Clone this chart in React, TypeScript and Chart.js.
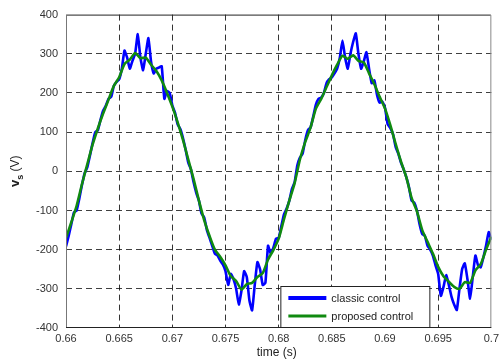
import React, { useEffect, useRef } from "react";
import { Chart, registerables } from "chart.js";

Chart.register(...registerables);

// ---- data ----
const T_START = 0.66;
const CLASSIC_STEP = 0.00025; // sampling grid of the classic-control trace
const PROPOSED_STEP = 0.0005; // sampling grid of the proposed-control trace

const xTicks = [0.66, 0.665, 0.67, 0.675, 0.68, 0.685, 0.69, 0.695, 0.7];
const yTicks = [-400, -300, -200, -100, 0, 100, 200, 300, 400];
const seriesNames = ["classic control", "proposed control"];

const classicControl = [
  -192, -165, -135, -105, -100, -70, -35, -5, 10, 40,
  72, 100, 105, 132, 155, 168, 185, 190, 218, 228,
  235, 262, 308, 290, 262, 282, 300, 350, 290, 258,
  300, 340, 280, 250, 262, 265, 268, 185, 205, 200,
  168, 150, 120, 108, 85, 55, 22, 5, -28, -55,
  -75, -108, -118, -150, -170, -190, -210, -215, -228, -238,
  -255, -290, -262, -275, -300, -340, -305, -255, -270, -330,
  -355, -290, -232, -250, -290, -285, -190, -210, -195, -172,
  -170, -140, -110, -95, -75, -45, -28, 15, 35, 45,
  80, 105, 112, 140, 170, 185, 188, 200, 225, 235,
  240, 250, 262, 290, 334, 290, 262, 300, 330, 352,
  300, 262, 280, 304, 262, 225, 232, 195, 175, 178,
  162, 120, 110, 95, 62, 45, 22, 5, -15, -40,
  -75, -80, -100, -135, -160, -165, -190, -200, -215, -240,
  -262, -318, -295, -265, -290, -320, -340, -354, -300, -250,
  -235, -275, -325, -270, -215, -240, -245, -220, -190, -155,
  -175,
];

const proposedControl = [
  -170, -130, -88, -33, 18, 68, 110, 148, 183, 218,
  240, 274, 285, 302, 289, 290, 272, 256, 232, 200,
  165, 125, 80, 30, -20, -75, -125, -165, -200, -218,
  -240, -268, -280, -302, -288, -285, -270, -260, -225, -201,
  -172, -122, -75, -30, 30, 75, 112, 160, 185, 215,
  245, 272, 295, 287, 296, 282, 278, 250, 222, 190,
  160, 118, 70, 25, -15, -68, -102, -150, -180, -210,
  -244, -268, -282, -295, -300, -283, -285, -253, -237, -200,
  -167,
];

const CLASSIC_COLOR = "#0000ff";
const PROPOSED_COLOR = "#108a10";
const FONT = "'Liberation Sans', Arial, sans-serif";

const overlayPlugin = {
  id: "matlabOverlay",
  afterDatasetsDraw(chart: any) {
    const { ctx, chartArea } = chart;
    const { left, right, top, bottom } = chartArea;
    ctx.save();
    // frame
    ctx.lineWidth = 1;
    ctx.setLineDash([]);
    ctx.strokeStyle = "#222";
    ctx.beginPath();
    ctx.moveTo(left + 0.5, top + 0.5);
    ctx.lineTo(right - 0.5, top + 0.5);
    ctx.stroke();
    ctx.strokeStyle = "#888";
    ctx.beginPath();
    ctx.moveTo(right - 0.5, top + 0.5);
    ctx.lineTo(right - 0.5, bottom - 0.5);
    ctx.stroke();
    ctx.strokeStyle = "#777";
    ctx.beginPath();
    ctx.moveTo(left + 0.5, top);
    ctx.lineTo(left + 0.5, bottom);
    ctx.stroke();
    ctx.strokeStyle = "#222";
    ctx.beginPath();
    ctx.moveTo(left, bottom - 0.5);
    ctx.lineTo(right, bottom - 0.5);
    ctx.stroke();

    // legend box (inside, bottom-right)
    const bx = right - 211;
    const by = bottom - 42;
    const bw = 149;
    const bh = 41;
    ctx.fillStyle = "#ffffff";
    ctx.fillRect(bx, by, bw, bh);
    ctx.strokeStyle = "#222";
    ctx.lineWidth = 1;
    ctx.strokeRect(bx + 0.5, by + 0.5, bw, bh);
    const rows = [
      { name: seriesNames[0], color: CLASSIC_COLOR, w: 4, y: by + 12 },
      { name: seriesNames[1], color: PROPOSED_COLOR, w: 3, y: by + 30 },
    ];
    ctx.font = `11px ${FONT}`;
    ctx.textBaseline = "middle";
    ctx.textAlign = "left";
    for (const r of rows) {
      ctx.strokeStyle = r.color;
      ctx.lineWidth = r.w;
      ctx.beginPath();
      ctx.moveTo(bx + 8, r.y);
      ctx.lineTo(bx + 46, r.y);
      ctx.stroke();
      ctx.fillStyle = "#222";
      ctx.fillText(r.name, bx + 51, r.y + 0.5);
    }

    // axis titles
    ctx.fillStyle = "#222";
    ctx.font = `12px ${FONT}`;
    ctx.textAlign = "center";
    ctx.textBaseline = "top";
    ctx.fillText("time (s)", (left + right) / 2 - 2, 347);

    // y title with subscript: v_s (V)
    ctx.translate(19, (top + bottom) / 2);
    ctx.rotate(-Math.PI / 2);
    ctx.textBaseline = "alphabetic";
    ctx.textAlign = "left";
    ctx.font = `bold 13px ${FONT}`;
    const wV = ctx.measureText("v").width;
    ctx.font = `bold 9px ${FONT}`;
    const wS = ctx.measureText("s").width;
    ctx.font = `bold 12px ${FONT}`;
    const wRest = ctx.measureText(" (V)").width;
    const total = wV + wS + wRest;
    let x0 = -total / 2;
    ctx.font = `bold 13px ${FONT}`;
    ctx.fillText("v", x0, 0);
    x0 += wV;
    ctx.font = `bold 9px ${FONT}`;
    ctx.fillText("s", x0, 4);
    x0 += wS;
    ctx.font = `12px ${FONT}`;
    ctx.fillText(" (V)", x0, 0);
    ctx.restore();
  },
};

export default function App() {
  const ref = useRef<HTMLCanvasElement | null>(null);

  useEffect(() => {
    document.body.style.margin = "0";
    const canvas = ref.current;
    if (!canvas) return;

    const classicPts = classicControl.map((v, i) => ({ x: T_START + i * CLASSIC_STEP, y: v }));
    const proposedPts = proposedControl.map((v, i) => ({ x: T_START + i * PROPOSED_STEP, y: v }));

    const edgeX = (v: number) => Math.abs(v - xTicks[0]) < 1e-9 || Math.abs(v - xTicks[xTicks.length - 1]) < 1e-9;
    const edgeY = (v: number) => v === yTicks[0] || v === yTicks[yTicks.length - 1];

    const chart = new Chart(canvas, {
      type: "line",
      data: {
        datasets: [
          {
            label: seriesNames[1],
            data: proposedPts,
            borderColor: PROPOSED_COLOR,
            borderWidth: 2.6,
            pointRadius: 0,
            tension: 0.2,
            order: 0,
          },
          {
            label: seriesNames[0],
            data: classicPts,
            borderColor: CLASSIC_COLOR,
            borderWidth: 2.6,
            pointRadius: 0,
            tension: 0.15,
            order: 1,
          },
        ],
      },
      options: {
        animation: false,
        responsive: false,
        devicePixelRatio: 1,
        layout: { padding: { top: 14, right: 5, left: 0, bottom: 0 } },
        plugins: {
          legend: { display: false },
          tooltip: { enabled: false },
          title: { display: false },
        },
        scales: {
          x: {
            type: "linear",
            min: xTicks[0],
            max: xTicks[xTicks.length - 1],
            afterBuildTicks: (s: any) => {
              s.ticks = xTicks.map((v) => ({ value: v }));
            },
            afterFit: (s: any) => {
              s.height = 32;
            },
            ticks: {
              autoSkip: false,
              maxRotation: 0,
              padding: 4,
              color: "#333",
              font: { family: FONT, size: 11 },
              callback: (v: any) => String(Number(Number(v).toFixed(3))),
            },
            grid: {
              drawTicks: false,
              lineWidth: 1,
              color: (c: any) => (c.tick && edgeX(c.tick.value) ? "rgba(0,0,0,0)" : "rgba(0,0,0,0.8)"),
            },
            border: { display: false, dash: [6, 4] },
          },
          y: {
            type: "linear",
            min: yTicks[0],
            max: yTicks[yTicks.length - 1],
            afterBuildTicks: (s: any) => {
              s.ticks = yTicks.map((v) => ({ value: v }));
            },
            afterFit: (s: any) => {
              s.width = 66;
            },
            ticks: {
              autoSkip: false,
              padding: 8,
              color: "#333",
              font: { family: FONT, size: 11 },
              callback: (v: any) => String(v),
            },
            grid: {
              drawTicks: false,
              lineWidth: 1,
              color: (c: any) => (c.tick && edgeY(c.tick.value) ? "rgba(0,0,0,0)" : "rgba(0,0,0,0.75)"),
            },
            border: { display: false, dash: [6, 4] },
          },
        },
      },
      plugins: [overlayPlugin],
    } as any);

    return () => chart.destroy();
  }, []);

  return (
    <div style={{ width: 503, height: 360, background: "#fff" }}>
      <canvas ref={ref} width={503} height={360} style={{ display: "block" }} />
    </div>
  );
}
